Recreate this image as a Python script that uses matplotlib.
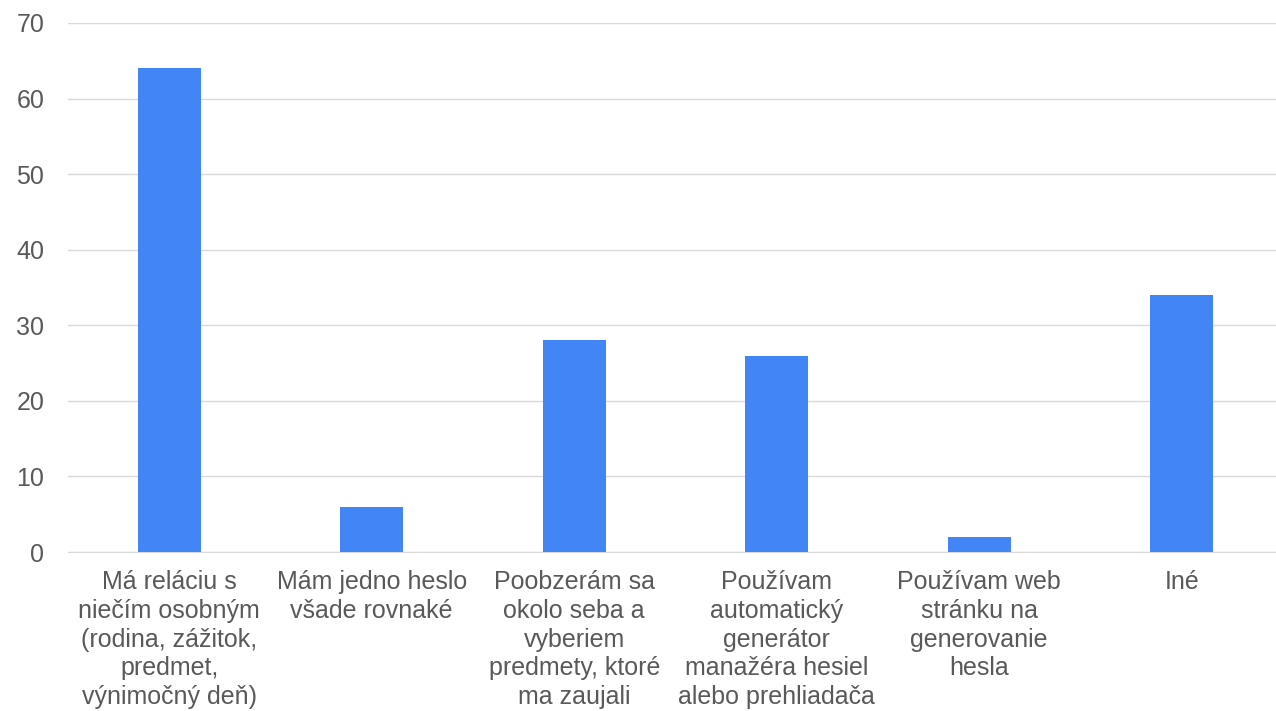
import matplotlib.pyplot as plt

categories = [
    'Má reláciu s\nniečím osobným\n(rodina, zážitok,\npredmet,\nvýnimočný deň)',
    'Mám jedno heslo\nvšade rovnaké',
    'Poobzerám sa\nokolo seba a\nvyberiem\npredmety, ktoré\nma zaujali',
    'Používam\nautomatický\ngenerátor\nmanažéra hesiel\nalebo prehliadača',
    'Používam web\nstránku na\ngenerovanie\nhesla',
    'Iné',
]
values = [64, 6, 28, 26, 2, 34]
yticks = [0, 10, 20, 30, 40, 50, 60, 70]

plt.rcParams['font.family'] = ['Liberation Sans', 'DejaVu Sans']

fig = plt.figure(figsize=(12.76, 7.11), dpi=100)
ax = fig.add_axes([68 / 1276, 1 - 552 / 711, 1 - 68 / 1276, (552 - 23) / 711])

x = list(range(len(values)))
ax.bar(x, values, width=0.31, color='#4285F4', zorder=3)

ax.set_ylim(0, 70)
ax.set_xlim(-0.5, 5.466)
ax.set_yticks(yticks)
ax.yaxis.grid(True, color='#d9d9d9', linewidth=1, zorder=0)
ax.set_xticks(x)
ax.set_xticklabels(categories, fontsize=18, color='#595959', linespacing=1.25)
ax.tick_params(axis='y', labelsize=18, labelcolor='#595959', length=0, pad=17)
ax.tick_params(axis='x', length=0, pad=13)
for s in ['top', 'right', 'left']:
    ax.spines[s].set_visible(False)
ax.spines['bottom'].set_color('#d9d9d9')

plt.savefig('out.png', dpi=100)
